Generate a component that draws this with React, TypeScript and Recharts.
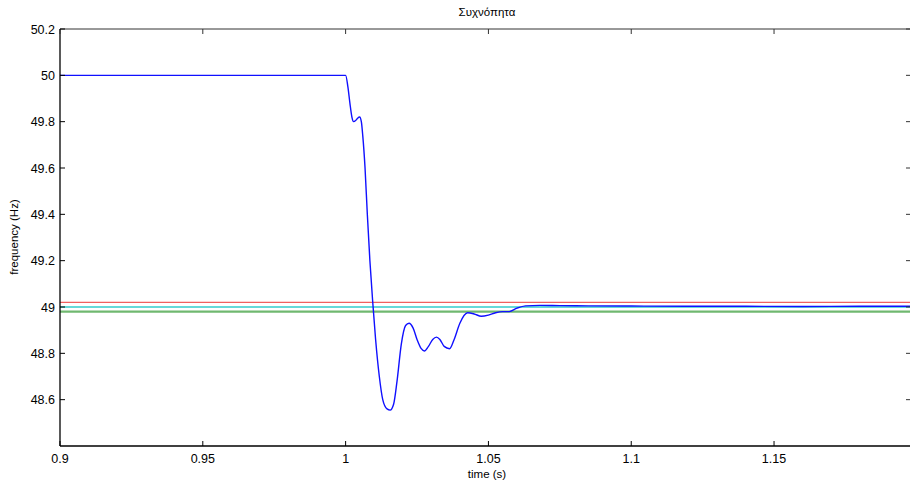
import React from 'react';
import { LineChart, Line, XAxis, YAxis, ReferenceLine } from 'recharts';

const timeValues = [
  0.9, 1.0, 1.0008, 1.0015, 1.0022, 1.0028, 1.0035, 1.0042, 1.0049, 1.0055, 1.006, 1.0068,
  1.0076, 1.0085, 1.0095, 1.0105, 1.0118, 1.013, 1.0145, 1.0156, 1.0168, 1.018, 1.0195, 1.021,
  1.0222, 1.0236, 1.025, 1.0265, 1.0276, 1.029, 1.0305, 1.0318, 1.033, 1.0345, 1.0364, 1.038,
  1.04, 1.0427, 1.045, 1.0475, 1.05, 1.0525, 1.055, 1.0573, 1.06, 1.063, 1.068, 1.075, 1.085,
  1.1, 1.12, 1.14, 1.16, 1.18, 1.1976,
];
const freqValues = [
  50, 50, 49.95, 49.88, 49.82, 49.8, 49.805, 49.815, 49.82, 49.8, 49.74, 49.6,
  49.4, 49.2, 49.02, 48.86, 48.7, 48.6, 48.56, 48.555, 48.58, 48.68, 48.84, 48.92,
  48.93, 48.91, 48.86, 48.82, 48.81, 48.83, 48.86, 48.87, 48.86, 48.83, 48.82, 48.86,
  48.93, 48.975, 48.97, 48.96, 48.965, 48.975, 48.98, 48.98, 48.995, 49.005, 49.007, 49.006, 49.005,
  49.004, 49.003, 49.003, 49.002, 49.003, 49.003,
];
const thresholdValues = [49.02, 49.0, 48.98];
const thresholdColors = ['#f06060', '#33cccc', '#70b870'];
const thresholdWidths = [1.2, 1.5, 2.2];
const xTicks = [0.9, 0.95, 1, 1.05, 1.1, 1.15];
const yTicks = [48.6, 48.8, 49, 49.2, 49.4, 49.6, 49.8, 50, 50.2];
const titleText = 'Συχνόπητα';
const xLabelText = 'time (s)';
const yLabelText = 'frequency (Hz)';

const data = timeValues.map((t, i) => ({ t, f: freqValues[i] }));

const FONT = '"Liberation Sans", Arial, sans-serif';
const FS = 12.5;
const fmt = (v: number) => String(Math.round(v * 1000) / 1000);

const BottomTick = (p: any) => (
  <g>
    <line x1={p.x} y1={p.y} x2={p.x} y2={p.y - 5} stroke="#000" strokeWidth={1} />
    <text x={p.x} y={p.y + 17} textAnchor="middle" fontFamily={FONT} fontSize={FS} fill="#000">
      {fmt(p.payload.value)}
    </text>
  </g>
);
const TopTick = (p: any) => (
  <line x1={p.x} y1={p.y} x2={p.x} y2={p.y + 5} stroke="#333" strokeWidth={1} />
);
const LeftTick = (p: any) => (
  <g>
    <line x1={p.x} y1={p.y} x2={p.x + 5} y2={p.y} stroke="#000" strokeWidth={1} />
    <text x={p.x - 5} y={p.y + 4.5} textAnchor="end" fontFamily={FONT} fontSize={FS} fill="#000">
      {fmt(p.payload.value)}
    </text>
  </g>
);
const RightTick = (p: any) => (
  <line x1={p.x} y1={p.y} x2={p.x - 4} y2={p.y} stroke="#333" strokeWidth={1} />
);

export default function App() {
  return (
    <div style={{ position: 'absolute', left: 0, top: 0, width: 911, height: 485, background: '#fff' }}>
      <LineChart
        width={911}
        height={485}
        data={data}
        margin={{ top: 28, right: 0, bottom: 0, left: 0 }}
      >
        <XAxis
          xAxisId="b"
          dataKey="t"
          type="number"
          domain={[0.9, 1.1976]}
          ticks={xTicks}
          allowDataOverflow
          height={39}
          tickSize={0}
          tickMargin={0}
          tick={<BottomTick />}
          axisLine={{ stroke: '#000', strokeWidth: 1.3 }}
          tickLine={false}
        />
        <XAxis
          xAxisId="t"
          orientation="top"
          dataKey="t"
          type="number"
          domain={[0.9, 1.1976]}
          ticks={xTicks}
          allowDataOverflow
          height={1}
          tickSize={0}
          tickMargin={0}
          tick={<TopTick />}
          axisLine={{ stroke: '#333', strokeWidth: 1 }}
          tickLine={false}
        />
        <YAxis
          yAxisId="l"
          type="number"
          domain={[48.4, 50.2]}
          ticks={yTicks}
          allowDataOverflow
          width={60}
          tickSize={0}
          tickMargin={0}
          tick={<LeftTick />}
          axisLine={{ stroke: '#000', strokeWidth: 1.3 }}
          tickLine={false}
        />
        <YAxis
          yAxisId="r"
          orientation="right"
          type="number"
          domain={[48.4, 50.2]}
          ticks={yTicks}
          allowDataOverflow
          width={1}
          tickSize={0}
          tickMargin={0}
          tick={<RightTick />}
          axisLine={false}
          tickLine={false}
        />
        {thresholdValues.map((v, i) => (
          <ReferenceLine
            key={i}
            xAxisId="b"
            yAxisId="l"
            y={v}
            stroke={thresholdColors[i]}
            strokeWidth={thresholdWidths[i]}
          />
        ))}
        <Line
          xAxisId="b"
          yAxisId="l"
          dataKey="f"
          type="monotone"
          stroke="#1010ff"
          strokeWidth={1.4}
          dot={false}
          isAnimationActive={false}
        />
        <text x={487} y={16} textAnchor="middle" fontFamily={FONT} fontSize={11.5} fill="#000">
          {titleText}
        </text>
        <text x={487} y={478} textAnchor="middle" fontFamily={FONT} fontSize={11.5} fill="#000">
          {xLabelText}
        </text>
        <text
          x={18}
          y={237}
          textAnchor="middle"
          fontFamily={FONT}
          fontSize={11.5}
          fill="#000"
          transform="rotate(-90 18 237)"
        >
          {yLabelText}
        </text>
      </LineChart>
    </div>
  );
}
